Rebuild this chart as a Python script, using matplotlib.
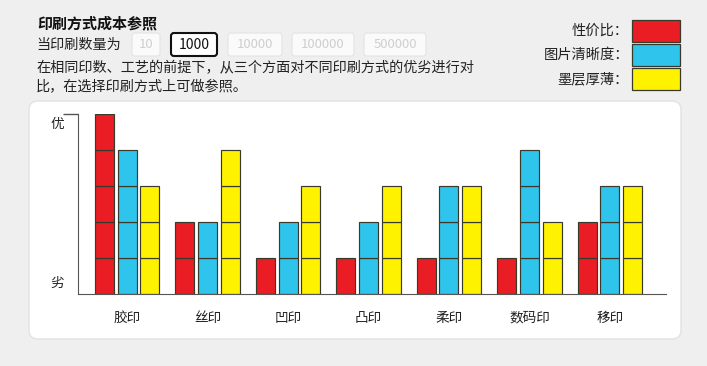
import matplotlib.pyplot as plt
from matplotlib.patches import FancyBboxPatch, Rectangle
import numpy as np

plt.rcParams['font.family'] = ['Noto Sans CJK SC', 'DejaVu Sans']

# ===== data =====
categories = ['胶印', '丝印', '凹印', '凸印', '柔印', '数码印', '移印']
series_names = ['性价比：', '图片清晰度：', '墨层厚薄：']
cost_value = [5, 2, 1, 1, 1, 1, 2]
clarity = [4, 2, 2, 2, 3, 4, 3]
ink_thickness = [3, 4, 3, 3, 3, 2, 3]
quantities = ['10', '1000', '10000', '100000', '500000']
selected_qty = '1000'

colors = ['#ea1c24', '#2ec4ec', '#fff200']
edge = '#3a3a2c'

W, H = 707, 366
fig = plt.figure(figsize=(W / 100, H / 100), dpi=100)
fig.patch.set_facecolor('#efefef')

# background layer in pixel coords
bg = fig.add_axes([0, 0, 1, 1])
bg.set_xlim(0, W)
bg.set_ylim(H, 0)
bg.axis('off')

# white panel
bg.add_patch(FancyBboxPatch((29, 101), 652, 238, boxstyle='round,pad=0,rounding_size=9',
                            facecolor='white', edgecolor='#e2e2e2', linewidth=1.0))

# header text
bg.text(37, 23, '印刷方式成本参照', fontsize=10.8, fontweight='bold', va='center', ha='left', color='#111111')
bg.text(36, 45, '当印刷数量为', fontsize=10.2, va='center', ha='left', color='#222222')
bg.text(36, 68, '在相同印数、工艺的前提下，从三个方面对不同印刷方式的优劣进行对',
        fontsize=10.2, va='center', ha='left', color='#222222')
bg.text(36, 87, '比，在选择印刷方式上可做参照。', fontsize=10.2, va='center', ha='left', color='#222222')

# quantity buttons
btn_x = [132, 171, 228, 292, 364]
btn_w = [28, 46, 54, 62, 62]
for q, bx, bw in zip(quantities, btn_x, btn_w):
    if q == selected_qty:
        bg.add_patch(FancyBboxPatch((bx, 33), bw, 23, boxstyle='round,pad=0,rounding_size=3',
                                    facecolor='white', edgecolor='#111111', linewidth=1.5))
        bg.text(bx + bw / 2, 45, q, fontsize=10, ha='center', va='center', color='#111111')
    else:
        bg.add_patch(FancyBboxPatch((bx, 33), bw, 23, boxstyle='round,pad=0,rounding_size=3',
                                    facecolor='#fafafa', edgecolor='#e4e4e4', linewidth=0.8))
        bg.text(bx + bw / 2, 45, q, fontsize=9.5, ha='center', va='center', color='#cfcfcf')

# legend
leg_y = [31, 55, 79]
for name, c, ly in zip(series_names, colors, leg_y):
    bg.text(629, ly, name, fontsize=10.3, ha='right', va='center', color='#222222')
    bg.add_patch(Rectangle((632, ly - 11), 48, 22, facecolor=c, edgecolor=edge, linewidth=0.9))

# ===== chart =====
ax = fig.add_axes([78 / W, (H - 294) / H, (666 - 78) / W, 180 / H])
ax.set_facecolor('none')
x = np.arange(len(categories))
values = [cost_value, clarity, ink_thickness]
offsets = [-0.28, 0, 0.28]
for vals, c, off in zip(values, colors, offsets):
    for xi, v in zip(x, vals):
        for k in range(v):
            ax.bar(xi + off, 1, bottom=k, width=0.236, color=c, edgecolor=edge, linewidth=0.85)

ax.set_xlim(-0.609, 6.696)
ax.set_ylim(0, 5)
for s in ['top', 'right']:
    ax.spines[s].set_visible(False)
ax.spines['left'].set_color('#555555')
ax.spines['bottom'].set_color('#555555')
ax.set_yticks([5])
ax.set_yticklabels([''])
ax.tick_params(axis='y', length=11, width=1, color='#555555')
ax.set_xticks(x)
ax.set_xticklabels(categories, fontsize=9.8, color='#222222')
ax.tick_params(axis='x', length=0, pad=12)
ax.spines['left'].set_bounds(0, 5)

bg.text(57, 124, '优', fontsize=9.8, ha='center', va='center', color='#222222', zorder=5)
bg.text(57, 283, '劣', fontsize=9.8, ha='center', va='center', color='#222222', zorder=5)

fig.savefig('out.png', dpi=100, facecolor=fig.get_facecolor())
